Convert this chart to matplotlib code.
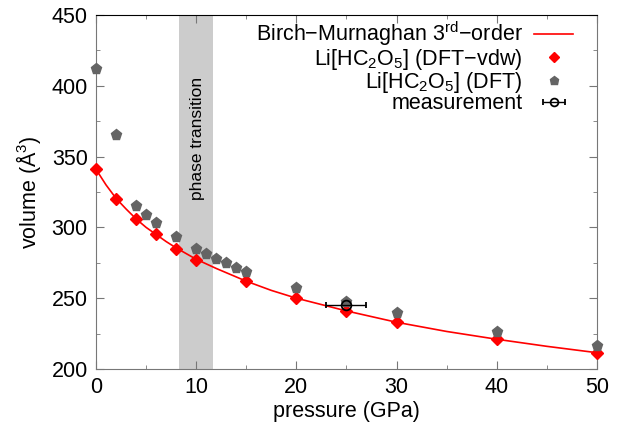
import numpy as np
import matplotlib
matplotlib.use("Agg")
import matplotlib.pyplot as plt

plt.rcParams['font.family'] = ['Liberation Sans', 'DejaVu Sans']
plt.rcParams['mathtext.fontset'] = 'custom'
plt.rcParams['mathtext.rm'] = 'Liberation Sans'
plt.rcParams['mathtext.it'] = 'Liberation Sans:italic'

# Birch-Murnaghan fit curve
fitP = [0, 1, 2, 3, 4, 5, 6, 7, 8, 10, 12, 15, 17.5, 20, 22.5, 25, 30, 35, 40, 45, 50]
fitV = [341, 330, 320.5, 313, 306, 300, 295, 290, 285.5, 277.5, 271, 262, 255.5, 250,
        245.5, 241, 233, 226.5, 221, 216, 211.5]

# DFT-vdw points
vdwP = [0, 2, 4, 6, 8, 10, 15, 20, 25, 30, 40, 50]
vdwV = [341, 320, 306, 295, 285, 277, 262, 250, 241, 233, 221, 211]

# DFT points
dftP = [0, 2, 4, 5, 6, 8, 10, 11, 12, 13, 14, 15, 20, 25, 30, 40, 50]
dftV = [412, 365, 315, 308.5, 303, 293, 284.5, 281, 277.7, 274.6, 271.6, 268.7, 257, 247.5,
        239.3, 226.3, 216.5]

# measurement
measP = [25]
measV = [245.2]
measErr = [2.0]

phaseRange = (8.3, 11.7)

fs = 15.5

fig = plt.figure(figsize=(6.25, 4.28), dpi=100)
ax = fig.add_axes([0.1536, 0.1379, 0.8014, 0.8271])

ax.axvspan(phaseRange[0], phaseRange[1], color='#cccccc', lw=0, zorder=0)
ax.text(10.1, 406, 'phase transition', rotation=90, ha='center', va='top', fontsize=12.5)

ax.plot(fitP, fitV, color='red', lw=1.2, label='Birch\u2212Murnaghan 3$^{\\rm rd}$\u2212order', zorder=2)
ax.plot(vdwP, vdwV, 'D', color='red', ms=6.5, ls='none', label='Li[HC$_2$O$_5$] (DFT\u2212vdw)',
        zorder=3, clip_on=False)
ax.plot(dftP, dftV, 'p', color='#646464', ms=8, ls='none', label='Li[HC$_2$O$_5$] (DFT)',
        zorder=3, clip_on=False)
ax.errorbar(measP, measV, xerr=measErr, fmt='o', mfc='none', mec='black', ecolor='black',
            ms=7, mew=1.3, capsize=2.5, elinewidth=1.0, label='measurement', zorder=4)

ax.set_xlim(0, 50)
ax.set_ylim(200, 450)
ax.set_xticks(np.arange(0, 51, 10))
ax.set_xticks(np.arange(0, 51, 5), minor=True)
ax.set_yticks(np.arange(200, 451, 50))
ax.set_yticks(np.arange(200, 451, 25), minor=True)
ax.tick_params(which='both', direction='in', top=True, right=True, labelsize=fs, pad=6,
               color='#777777')
ax.tick_params(which='major', length=6)
ax.tick_params(which='minor', length=3)
for side in ['left', 'bottom', 'right']:
    ax.spines[side].set_color('#777777')
ax.spines['top'].set_color('black')
ax.set_xlabel('pressure (GPa)', fontsize=fs, labelpad=2)
ax.set_ylabel('volume (\u00c5$^3$)', fontsize=fs, labelpad=6)

ax.legend(loc='upper right', bbox_to_anchor=(0.987, 1.035), frameon=False, markerfirst=False,
          fontsize=fs, handlelength=1.8, labelspacing=-0.08, borderpad=0.3, handletextpad=0.55,
          markerscale=0.8)

fig.savefig('out.png', dpi=100)
